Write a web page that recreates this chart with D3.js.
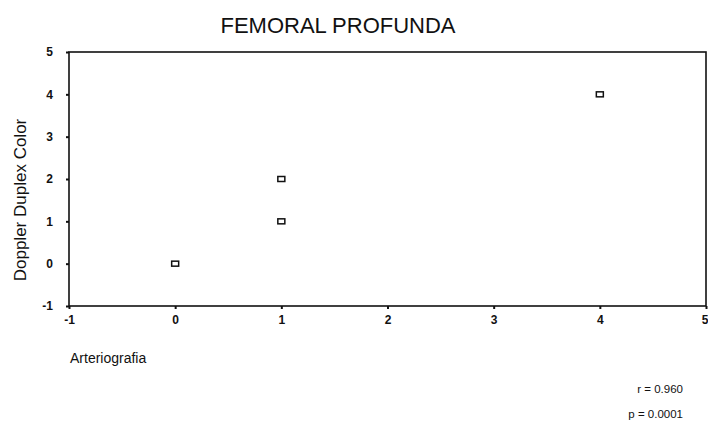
<!DOCTYPE html>
<html>
<head>
<meta charset="utf-8">
<script src="https://cdn.jsdelivr.net/npm/d3@7"></script>
<style>
    body { margin: 0; background: #fff; }
    svg { display: block; font-family: Arial, "Liberation Sans", sans-serif; }
</style>
</head>
<body>
<div id="chart"></div>
<script>
// arteriografia vs doppler duplex color grades
const arterio = [0, 1, 1, 4];
const doppler = [0, 1, 2, 4];
const xTicks = [-1, 0, 1, 2, 3, 4, 5];
const yTicks = [-1, 0, 1, 2, 3, 4, 5];
const statsLines = ["r = 0.960", "p = 0.0001"];

const svg_w = 708, svg_h = 427;
const margin = { top: 52, right: 2, bottom: 121, left: 69 };
const width = svg_w - margin.left - margin.right,
    height = svg_h - margin.top - margin.bottom;

const svg = d3.select("#chart")
    .append("svg")
    .attr("width", svg_w)
    .attr("height", svg_h);

const g = svg.append("g")
    .attr("transform", "translate(" + margin.left + "," + margin.top + ")");

const x = d3.scaleLinear().domain([-1, 5]).range([0, width]);
const y = d3.scaleLinear().domain([-1, 5]).range([height, 0]);

// frame
g.append("rect")
    .attr("width", width)
    .attr("height", height)
    .attr("fill", "none")
    .attr("stroke", "#111")
    .attr("stroke-width", 1.6);

const xAxis = d3.axisBottom(x).tickValues(xTicks).tickSize(3).tickPadding(6).tickFormat(d => String(d));
const yAxis = d3.axisLeft(y).tickValues(yTicks).tickSize(3).tickPadding(13).tickFormat(d => String(d));

const gx = g.append("g")
    .attr("transform", "translate(0," + height + ")")
    .call(xAxis)
    .call(a => a.select(".domain").remove());

// last label sits at the right edge
gx.selectAll(".tick text")
    .filter(d => d === xTicks[xTicks.length - 1])
    .attr("text-anchor", "end")
    .attr("dx", 2);

g.append("g")
    .call(yAxis)
    .call(a => a.select(".domain").remove());

g.selectAll(".tick line").attr("stroke", "#111").attr("stroke-width", 2);
g.selectAll(".tick text")
    .attr("fill", "#111")
    .style("font-size", "12px")
    .style("font-weight", "bold");

// points
const pts = arterio.map((d, i) => [d, doppler[i]]);
g.selectAll(".pt")
    .data(pts)
    .enter()
    .append("rect")
    .attr("class", "pt")
    .attr("x", d => x(d[0]) - 3.5)
    .attr("y", d => y(d[1]) - 2.5)
    .attr("width", 7)
    .attr("height", 5)
    .attr("fill", "none")
    .attr("stroke", "#111")
    .attr("stroke-width", 1.5);

// title
svg.append("text")
    .attr("x", 338)
    .attr("y", 33)
    .attr("text-anchor", "middle")
    .style("font-size", "22px")
    .attr("fill", "#111")
    .text("FEMORAL PROFUNDA");

// axis labels
svg.append("text")
    .attr("transform", "translate(26," + (margin.top + 148) + ") rotate(-90)")
    .attr("text-anchor", "middle")
    .style("font-size", "17px")
    .attr("fill", "#111")
    .text("Doppler Duplex Color");

svg.append("text")
    .attr("x", 70)
    .attr("y", 363)
    .style("font-size", "14px")
    .attr("fill", "#111")
    .text("Arteriografia");

// stats
svg.selectAll(".stat")
    .data(statsLines)
    .enter()
    .append("text")
    .attr("class", "stat")
    .attr("x", 683)
    .attr("y", (d, i) => 393 + i * 25)
    .attr("text-anchor", "end")
    .style("font-size", "11.5px")
    .attr("fill", "#111")
    .text(d => d);
</script>
</body>
</html>
